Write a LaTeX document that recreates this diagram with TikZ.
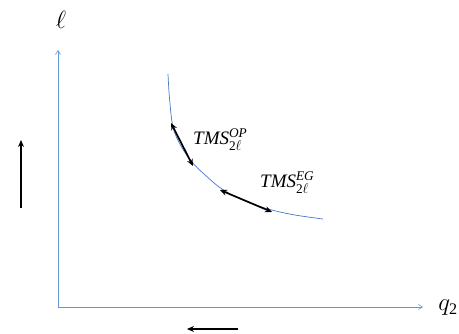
\documentclass[tikz,border=0pt]{standalone}
\usepackage{amsmath}
\usepackage{fontspec}
\setmainfont{Liberation Serif}
\usetikzlibrary{arrows.meta}
\definecolor{axisblue}{RGB}{100,150,210}
\definecolor{curveblue}{RGB}{70,120,195}
\tikzset{
  axis/.style={draw=axisblue, line width=0.6pt, -{Straight Barb[length=4pt,width=5pt,line width=0.6pt]}},
  tangent/.style={draw=black, line width=1.7pt, {Stealth[length=7pt,width=6pt]}-{Stealth[length=7pt,width=6pt]}},
  movearrow/.style={draw=black, line width=1.2pt, -{Stealth[length=7pt,width=6pt]}},
  lbl/.style={inner sep=0pt, font=\fontsize{19}{22}\selectfont}
}
\begin{document}
\begin{tikzpicture}[x=1pt,y=-1pt]
\useasboundingbox (0,0) rectangle (459,334);
% axes
\coordinate (O) at (58,307);
\coordinate (ytop) at (58,50);
\coordinate (xend) at (423,307);
\draw[axis] (O) -- (ytop);
\draw[axis] (O) -- (xend);
\node[lbl, font=\fontsize{26}{28}\selectfont] (ell) at (61,20) {$\ell$};
\node[lbl, font=\fontsize{23}{26}\selectfont] (q2) at (448,308) {$q_{\text{2}}$};
% curve
\draw[curveblue, line width=0.7pt] plot[smooth, tension=0.6] coordinates {(168,74) (169.5,98) (173,127) (181,146) (192,162) (204,174) (222,189) (245,201) (270,209.5) (295,215) (323,219)};
% tangent arrows
\coordinate (a1) at (171,123);
\coordinate (a2) at (193,166);
\coordinate (b1) at (220,190);
\coordinate (b2) at (272,212);
\draw[tangent] (a1) -- (a2);
\draw[tangent] (b1) -- (b2);
% labels
\node[lbl, anchor=west] (op) at (193,140) {$\textit{TMS}^{\textit{OP}}_{\text{2}\ell}$};
\node[lbl, anchor=west] (eg) at (260,183) {$\textit{TMS}^{\textit{EG}}_{\text{2}\ell}$};
% movement arrows
\coordinate (v1) at (21,208);
\coordinate (v2) at (21,140);
\coordinate (h1) at (238,329);
\coordinate (h2) at (187,329);
\draw[movearrow] (v1) -- (v2);
\draw[movearrow] (h1) -- (h2);
\end{tikzpicture}
\end{document}
